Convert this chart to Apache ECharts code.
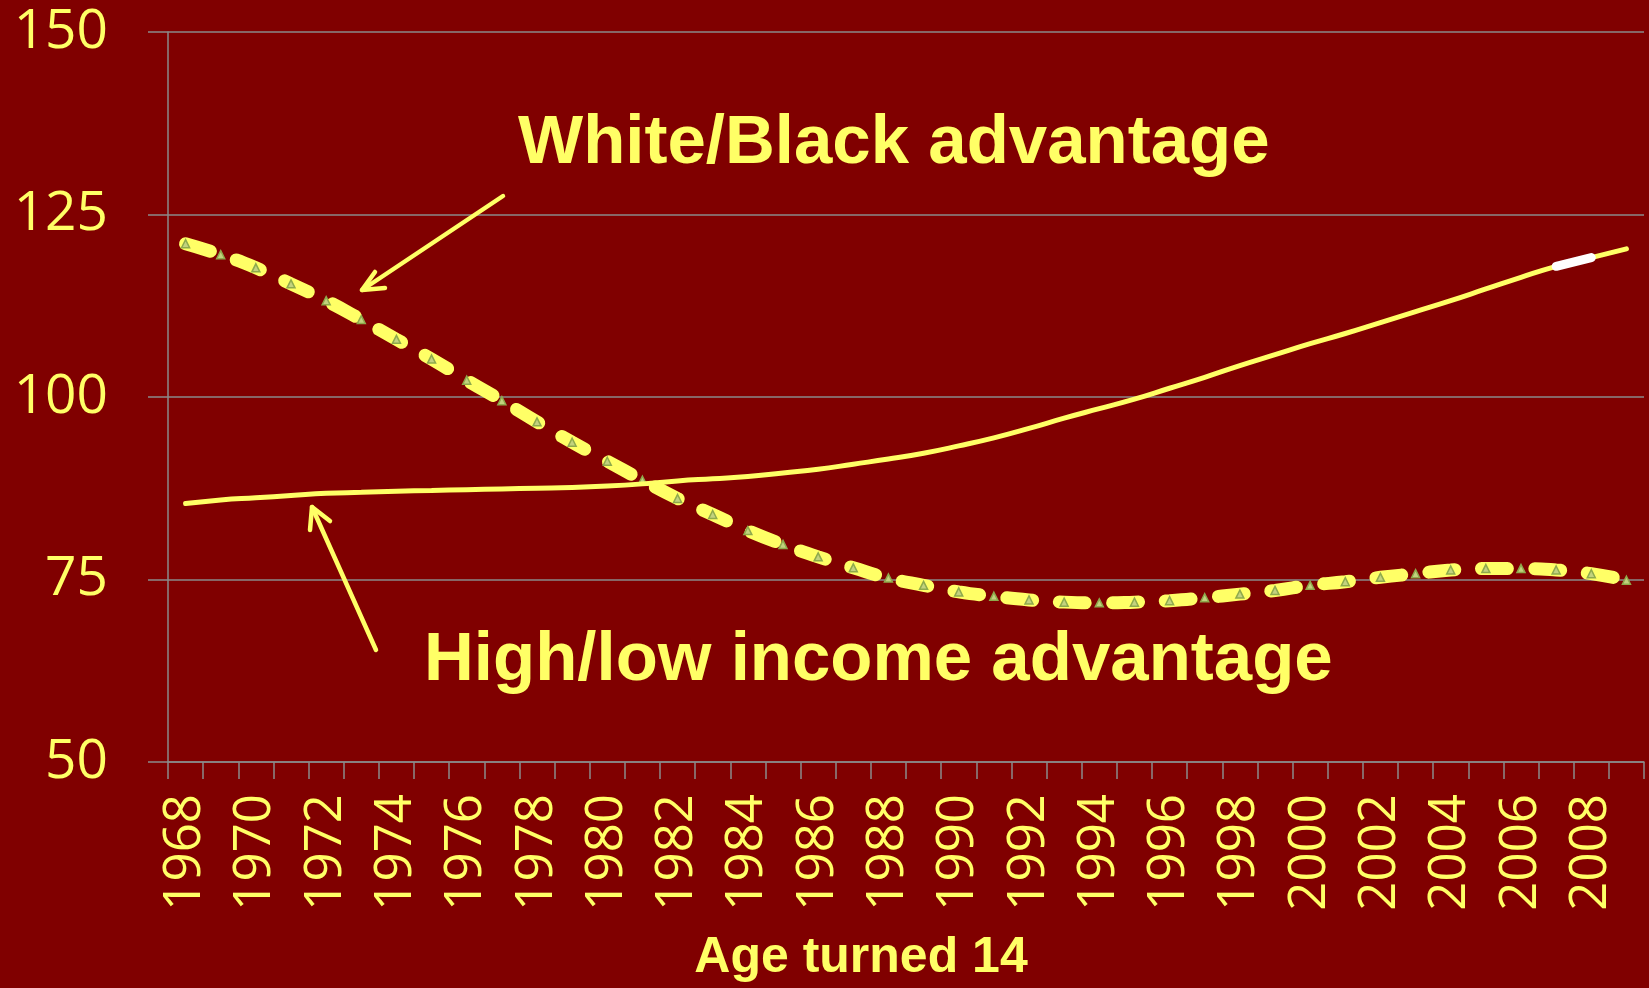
<!DOCTYPE html>
<html>
<head>
<meta charset="utf-8">
<script src="https://cdn.jsdelivr.net/npm/echarts@6/dist/echarts.min.js"></script>
<style>
  html, body { margin: 0; padding: 0; background: #800000; }
  #chart { width: 1649px; height: 988px; }
</style>
</head>
<body>
<div id="chart"></div>
<script>
// Year the cohort turned 14
const years = [];
for (let y = 1968; y <= 2009; y++) years.push(String(y));

// White/Black achievement gap (dashed line)
const whiteBlack = [
  121.0, 119.5, 117.7, 115.5, 113.2, 110.6, 107.9, 105.2, 102.3, 99.5,
  96.6, 93.8, 91.2, 88.6, 86.1, 83.9, 81.7, 79.8, 78.1, 76.6,
  75.2, 74.2, 73.3, 72.7, 72.2, 71.9, 71.8, 71.9, 72.1, 72.5,
  73.0, 73.5, 74.2, 74.7, 75.3, 75.8, 76.3, 76.5, 76.5, 76.3,
  75.8, 74.9
];

// High/low income achievement gap (solid line)
const highLowIncome = [
  85.4, 85.9, 86.2, 86.5, 86.8, 86.95, 87.1, 87.2, 87.3, 87.4,
  87.5, 87.6, 87.8, 88.1, 88.5, 88.8, 89.1, 89.6, 90.1, 90.8,
  91.5, 92.3, 93.3, 94.4, 95.7, 97.1, 98.4, 99.7, 101.2, 102.7,
  104.3, 105.8, 107.3, 108.7, 110.2, 111.7, 113.2, 114.8, 116.4, 117.9,
  119.1, 120.3
];

// Highlighted stretch of the income line (2007-2008)
const highlightYears = ['2007', '2008'];
const highlight = years.map((y, i) => highlightYears.includes(y) ? highLowIncome[i] : null);

const yTicks = { min: 50, max: 150, interval: 25 };

const YELLOW = '#ffff66';
const GRID = '#8a8a8a';

const chart = echarts.init(document.getElementById('chart'));

const arrowStyle = { stroke: YELLOW, lineWidth: 4.5, lineCap: 'round', lineJoin: 'round', fill: null };

chart.setOption({
  backgroundColor: '#800000',
  animation: false,
  grid: { left: 168, right: 5, top: 32, bottom: 226, containLabel: false },
  xAxis: {
    type: 'category',
    data: years,
    boundaryGap: true,
    axisLine: { show: true, lineStyle: { color: GRID, width: 1.5 } },
    axisTick: { show: true, interval: 0, length: 17, lineStyle: { color: GRID, width: 1.5 } },
    axisLabel: {
      interval: 1,
      rotate: 90,
      margin: 32,
      color: YELLOW,
      fontFamily: 'Open Sans',
      fontSize: 51
    },
    splitLine: { show: false }
  },
  yAxis: {
    type: 'value',
    min: yTicks.min,
    max: yTicks.max,
    interval: yTicks.interval,
    axisLine: { show: true, lineStyle: { color: GRID, width: 1.5 } },
    axisTick: { show: true, length: 20, lineStyle: { color: GRID, width: 1.5 } },
    axisLabel: {
      margin: 60,
      color: YELLOW,
      fontFamily: 'Open Sans',
      fontSize: 55
    },
    splitLine: { show: true, lineStyle: { color: GRID, width: 1.5 } }
  },
  series: [
    {
      name: 'White/Black advantage',
      type: 'line',
      data: whiteBlack,
      smooth: true,
      symbol: 'triangle',
      symbolSize: 8,
      showSymbol: true,
      itemStyle: { color: '#c2d27e', borderColor: '#8eaa4c', borderWidth: 1.5 },
      lineStyle: { color: YELLOW, width: 13, type: [26, 27], cap: 'round' },
      z: 2
    },
    {
      name: 'High/low income advantage',
      type: 'line',
      data: highLowIncome,
      smooth: true,
      showSymbol: false,
      lineStyle: { color: YELLOW, width: 5, cap: 'round' },
      z: 3
    },
    {
      name: 'highlight',
      type: 'line',
      data: highlight,
      showSymbol: false,
      lineStyle: { color: '#ffffff', width: 9, cap: 'round' },
      z: 4
    }
  ],
  graphic: [
    {
      type: 'text',
      left: null,
      x: 518, y: 144,
      style: {
        text: 'White/Black advantage',
        fill: YELLOW,
        font: 'bold 69px "Liberation Sans"',
        textAlign: 'left',
        textVerticalAlign: 'middle'
      },
      z: 10
    },
    {
      type: 'text',
      x: 424, y: 661,
      style: {
        text: 'High/low income advantage',
        fill: YELLOW,
        font: 'bold 69px "Liberation Sans"',
        textAlign: 'left',
        textVerticalAlign: 'middle'
      },
      z: 10
    },
    {
      type: 'text',
      x: 861, y: 958,
      style: {
        text: 'Age turned 14',
        fill: YELLOW,
        font: 'bold 50px "Liberation Sans"',
        textAlign: 'center',
        textVerticalAlign: 'middle'
      },
      z: 10
    },
    // arrow pointing at the dashed line
    { type: 'line', shape: { x1: 503, y1: 196, x2: 362, y2: 290 }, style: arrowStyle, z: 10 },
    { type: 'polyline', shape: { points: [[375, 272], [362, 290], [385, 288]] }, style: arrowStyle, z: 10 },
    // arrow pointing at the solid line
    { type: 'line', shape: { x1: 376, y1: 650, x2: 312, y2: 507 }, style: arrowStyle, z: 10 },
    { type: 'polyline', shape: { points: [[310, 530], [312, 507], [330, 521]] }, style: arrowStyle, z: 10 }
  ]
});
</script>
</body>
</html>
